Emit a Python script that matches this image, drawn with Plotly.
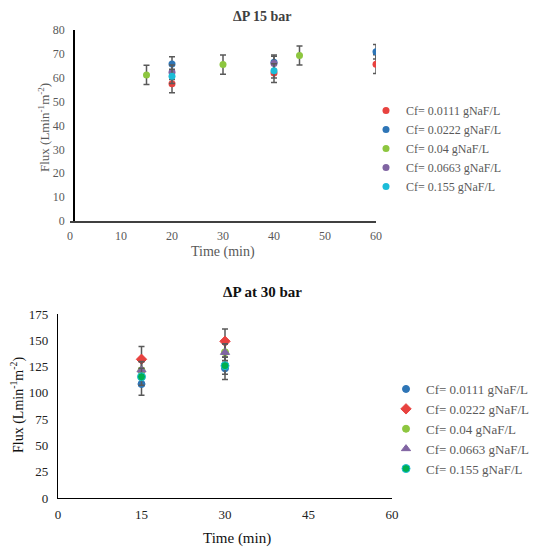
import plotly.graph_objects as go

W, H = 541, 550
OFF = 8  # page body margin of the browser
FONT = "Liberation Serif, Times New Roman, serif"

# ---- Data: ΔP 15 bar ----
labels = ["Cf= 0.0111 gNaF/L", "Cf= 0.0222 gNaF/L", "Cf= 0.04 gNaF/L",
          "Cf= 0.0663 gNaF/L", "Cf= 0.155 gNaF/L"]
t15_0111 = [20, 40, 60]
f15_0111 = [57.5, 62.0, 65.7]
e15_0111 = [3.8, 4.0, 3.9]
t15_0222 = [20, 40, 60]
f15_0222 = [65.8, 66.5, 70.9]
e15_0222 = [3.0, 3.0, 3.0]
t15_04 = [15, 30, 45]
f15_04 = [61.2, 65.5, 69.3]
e15_04 = [4.0, 4.0, 4.0]
t15_0663 = [20, 40]
f15_0663 = [62.3, 66.0]
e15_0663 = [3.0, 3.0]
t15_155 = [20, 40]
f15_155 = [60.6, 62.9]
e15_155 = [3.0, 3.0]

# ---- Data: ΔP 30 bar ----
t30 = [15, 30]
f30_0111 = [108.4, 123.3]
e30_0111 = [10.7, 10.7]
f30_0222 = [131.9, 149.0]
e30_0222 = [12.2, 11.8]
f30_04 = [121.5, 138.7]
e30_04 = [8.0, 8.0]
f30_0663 = [121.8, 138.5]
e30_0663 = [8.0, 8.0]
f30_155 = [115.3, 125.8]
e30_155 = [8.0, 8.0]

RED, BLUE, LGREEN, PURPLE, CYAN, GREEN = "#E8423F", "#2E75B6", "#8DC63F", "#8064A2", "#1CBCD8", "#00B050"
ERR = "#595959"
GRAY = "#595959"

FW, FH = W - OFF, H - OFF
def px(x): return (x - OFF) / FW
def py(y): return 1 - (y - OFF) / FH

fig = go.Figure()

def err(e):
    return dict(type="data", array=e, visible=True, color=ERR, thickness=1.5, width=3)

top = [(t15_0111, f15_0111, e15_0111, RED),
       (t15_0222, f15_0222, e15_0222, BLUE),
       (t15_04, f15_04, e15_04, LGREEN),
       (t15_0663, f15_0663, e15_0663, PURPLE),
       (t15_155, f15_155, e15_155, CYAN)]
for (t, f, e, c), name in zip(top, labels):
    fig.add_trace(go.Scatter(x=t, y=f, mode="markers", name=name, error_y=err(e),
                             marker=dict(color=c, size=7, symbol="circle"),
                             xaxis="x", yaxis="y", legend="legend"))

bottom = [(f30_0111, e30_0111, BLUE, "circle", BLUE, 7),
          (f30_0222, e30_0222, RED, "diamond", RED, 8),
          (f30_04, e30_04, LGREEN, "circle", LGREEN, 7),
          (f30_0663, e30_0663, PURPLE, "triangle-up", PURPLE, 8),
          (f30_155, e30_155, GREEN, "circle", CYAN, 8)]
for (f, e, c, s, lc, sz), name in zip(bottom, labels):
    fig.add_trace(go.Scatter(x=t30, y=f, mode="markers", name=name, error_y=err(e),
                             marker=dict(color=c, size=sz, symbol=s, line=dict(color=lc, width=1)),
                             xaxis="x2", yaxis="y2", legend="legend2"))

tickf_top = dict(family=FONT, size=12, color=GRAY)
tickf_bot = dict(family=FONT, size=13, color="#222222")

fig.update_layout(
    width=FW, height=FH,
    margin=dict(l=0, r=0, t=0, b=0, autoexpand=False),
    paper_bgcolor="white", plot_bgcolor="white",
    font=dict(family=FONT),
    xaxis=dict(domain=[px(70), px(376)], range=[0, 60], dtick=10, anchor="y",
               showgrid=False, zeroline=False, showline=True, linecolor="#404040", linewidth=1.5,
               ticks="", tickfont=tickf_top, ticklabelstandoff=3),
    yaxis=dict(domain=[py(221), py(30)], range=[0, 80], dtick=10, anchor="free", position=px(74),
               showgrid=False, zeroline=False, showline=True, linecolor="#000000", linewidth=1.5,
               ticks="", tickfont=tickf_top, ticklabelstandoff=6),
    xaxis2=dict(domain=[px(58), px(392)], range=[0, 60], dtick=15, anchor="y2",
                showgrid=False, zeroline=False, showline=True, linecolor="#000000", linewidth=1.2,
                ticks="", tickfont=tickf_bot, ticklabelstandoff=4),
    yaxis2=dict(domain=[py(498), py(314)], range=[0, 175], dtick=25, anchor="x2",
                showgrid=False, zeroline=False, showline=True, linecolor="#000000", linewidth=1.2,
                ticks="", tickfont=tickf_bot, ticklabelstandoff=6),
    legend=dict(x=px(366), y=py(96), xanchor="left", yanchor="top",
                font=dict(family=FONT, size=12, color=GRAY), tracegroupgap=0,
                itemsizing="trace", bgcolor="rgba(0,0,0,0)"),
    legend2=dict(x=px(386), y=py(374), xanchor="left", yanchor="top",
                 font=dict(family=FONT, size=13, color=GRAY), tracegroupgap=0,
                 itemsizing="trace", bgcolor="rgba(0,0,0,0)"),
    showlegend=True,
)

ann = [
    dict(text="<b>ΔP 15 bar</b>", x=px(262), y=py(17), font=dict(family=FONT, size=14, color="#404040")),
    dict(text="<b>ΔP at 30 bar</b>", x=px(262), y=py(292), font=dict(family=FONT, size=15, color="#111111")),
    dict(text="Time (min)", x=px(223), y=py(252), font=dict(family=FONT, size=14, color=GRAY)),
    dict(text="Flux (Lmin<sup>-1</sup>m<sup>-2</sup>)", x=px(44), y=py(128), textangle=-90,
         font=dict(family=FONT, size=13, color=GRAY)),
    dict(text="Time (min)", x=px(237), y=py(538), font=dict(family=FONT, size=15, color="#111111")),
    dict(text="Flux (Lmin<sup>-1</sup>m<sup>-2</sup>)", x=px(17), y=py(405), textangle=-90,
         font=dict(family=FONT, size=14, color="#111111")),
]
for a in ann:
    fig.add_annotation(xref="paper", yref="paper", showarrow=False,
                       xanchor="center", yanchor="middle", **a)

fig.write_html("out.html")
